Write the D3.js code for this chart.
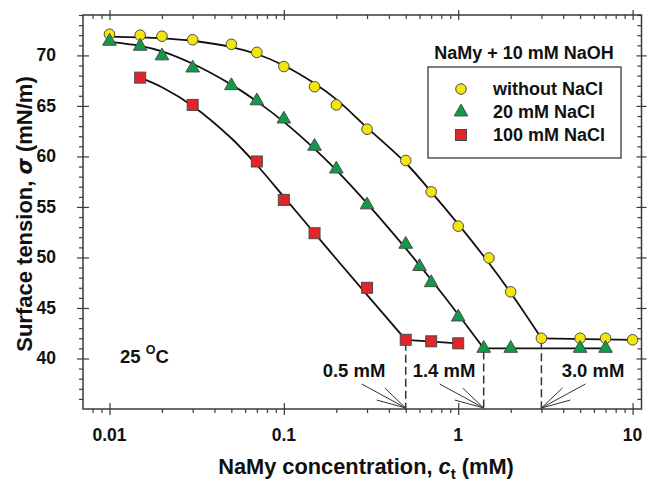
<!DOCTYPE html>
<html>
<head>
<meta charset="utf-8">
<script src="https://cdn.jsdelivr.net/npm/d3@7"></script>
<style>
  html, body { margin: 0; padding: 0; background: #fff; }
  svg { display: block; }
  text { font-family: "Liberation Sans", Arial, Helvetica, sans-serif; font-weight: bold; fill: #111; }
</style>
</head>
<body>
<svg id="chart" width="647" height="486"></svg>
<script>
// Measured surface tension (mN/m) vs NaMy concentration (mM)
const concNoSalt  = [0.01, 0.015, 0.02, 0.03, 0.05, 0.07, 0.1, 0.15, 0.2, 0.3, 0.5, 0.7, 1.0, 1.5, 2.0, 3.0, 5.0, 7.0, 10];
const sigmaNoSalt = [72.1, 72.0, 71.9, 71.55, 71.1, 70.3, 68.9, 66.9, 65.1, 62.7, 59.6, 56.5, 53.1, 49.95, 46.6, 42.0, 42.0, 42.0, 41.85];

const concNaCl20  = [0.01, 0.015, 0.02, 0.03, 0.05, 0.07, 0.1, 0.15, 0.2, 0.3, 0.5, 0.6, 0.7, 1.0, 1.4, 2.0, 5.0, 7.0];
const sigmaNaCl20 = [71.4, 70.9, 69.95, 68.75, 67.0, 65.5, 63.7, 61.0, 58.75, 55.2, 51.3, 49.1, 47.5, 44.1, 41.0, 41.0, 41.0, 41.0];

const concNaCl100  = [0.015, 0.03, 0.07, 0.1, 0.15, 0.3, 0.5, 0.7, 1.0];
const sigmaNaCl100 = [67.8, 65.1, 59.5, 55.7, 52.4, 47.0, 41.85, 41.7, 41.5];

// Fitted isotherm curves (knots) and post-CMC plateaus
const fitNoSaltX  = [0.01, 0.02, 0.03, 0.05, 0.07, 0.1, 0.15, 0.2, 0.3, 0.5, 0.7, 1.0, 1.5, 2.0, 3.0];
const fitNoSaltY  = [71.85, 71.69, 71.45, 70.83, 70.14, 69.0, 67.22, 65.65, 62.85, 59.35, 56.5, 53.3, 49.45, 46.5, 42.0];
const plateauNoSaltX = [3.0, 10];
const plateauNoSaltY = [42.0, 41.85];

const fitNaCl20X  = [0.01, 0.015, 0.02, 0.03, 0.05, 0.07, 0.1, 0.15, 0.2, 0.3, 0.5, 0.7, 1.0, 1.4];
const fitNaCl20Y  = [71.35, 70.95, 70.4, 69.17, 67.11, 65.45, 63.42, 60.75, 58.64, 55.36, 50.9, 47.79, 44.36, 41.0];
const plateauNaCl20X = [1.4, 7.0];
const plateauNaCl20Y = [41.0, 41.0];

const fitNaCl100X = [0.015, 0.02, 0.03, 0.05, 0.07, 0.1, 0.15, 0.2, 0.3, 0.5];
const fitNaCl100Y = [67.8, 66.85, 65.0, 61.8, 59.15, 56.0, 52.4, 49.85, 46.3, 41.85];
const plateauNaCl100X = [0.5, 1.0];
const plateauNaCl100Y = [41.85, 41.5];

// Critical micelle concentrations marked on the axis
const cmcValues = [0.5, 1.4, 3.0];
const cmcSigma  = [41.85, 41.0, 42.0];
const cmcLabels = ["0.5 mM", "1.4 mM", "3.0 mM"];

const xTickValues = [0.01, 0.1, 1, 10];
const xTickLabels = ["0.01", "0.1", "1", "10"];
const yTickValues = [40, 45, 50, 55, 60, 65, 70];

const legendTitle = "NaMy + 10 mM NaOH";
const seriesNames = ["without NaCl", "20 mM NaCl", "100 mM NaCl"];

const svg = d3.select("#chart");
const plotL = 83, plotR = 641.5, plotT = 15, plotB = 409;

const x = d3.scaleLog().domain([0.00705, 11.25]).range([plotL, plotR]);
const y = d3.scaleLinear().domain([35, 74]).range([plotB, plotT]);

const axisColor = "#3a3a3a";

// Minor tick values
const xMinor = [];
[0.001, 0.01, 0.1, 1].forEach(dec => {
  for (let k = 2; k <= 9; k++) {
    const v = dec * k;
    if (v >= x.domain()[0] && v <= x.domain()[1]) xMinor.push(v);
  }
});
const yMinor = d3.range(35, 75, 1).filter(v => v % 5 !== 0);

function styleAxis(g) {
  g.select(".domain").remove();
  g.selectAll(".tick line").attr("stroke", axisColor).attr("stroke-width", 1.2);
}

// Bottom: minor ticks outward, majors crossing the frame
svg.append("g").attr("transform", `translate(0,${plotB})`)
  .call(d3.axisBottom(x).tickValues(xMinor).tickSize(4).tickFormat(""))
  .call(styleAxis);
svg.append("g").attr("transform", `translate(0,${plotB - 6})`)
  .call(d3.axisBottom(x).tickValues(xTickValues).tickSize(12).tickFormat(""))
  .call(styleAxis);
// Top: ticks inward
svg.append("g").attr("transform", `translate(0,${plotT})`)
  .call(d3.axisBottom(x).tickValues(xMinor).tickSize(4).tickFormat(""))
  .call(styleAxis);
svg.append("g").attr("transform", `translate(0,${plotT - 5})`)
  .call(d3.axisBottom(x).tickValues(xTickValues).tickSize(10).tickFormat(""))
  .call(styleAxis);
// Left: minor outward, majors crossing
svg.append("g").attr("transform", `translate(${plotL},0)`)
  .call(d3.axisLeft(y).tickValues(yMinor).tickSize(4).tickFormat(""))
  .call(styleAxis);
svg.append("g").attr("transform", `translate(${plotL + 6},0)`)
  .call(d3.axisLeft(y).tickValues(yTickValues).tickSize(12).tickFormat(""))
  .call(styleAxis);
// Right: ticks inward
svg.append("g").attr("transform", `translate(${plotR},0)`)
  .call(d3.axisLeft(y).tickValues(yMinor).tickSize(4).tickFormat(""))
  .call(styleAxis);
svg.append("g").attr("transform", `translate(${plotR + 5},0)`)
  .call(d3.axisLeft(y).tickValues(yTickValues).tickSize(10).tickFormat(""))
  .call(styleAxis);

svg.append("rect")
  .attr("x", plotL).attr("y", plotT)
  .attr("width", plotR - plotL).attr("height", plotB - plotT)
  .attr("fill", "none").attr("stroke", axisColor).attr("stroke-width", 1.5);

// Tick labels
svg.append("g").selectAll("text").data(xTickValues).join("text")
  .attr("x", d => x(d)).attr("y", 441)
  .attr("text-anchor", "middle").attr("font-size", 17.5)
  .text((d, i) => xTickLabels[i]);
svg.append("g").selectAll("text").data(yTickValues).join("text")
  .attr("x", 56).attr("y", d => y(d) + 6)
  .attr("text-anchor", "end").attr("font-size", 17.5)
  .text(d => d);

// Axis titles
const xt = svg.append("text").attr("x", 366).attr("y", 474)
  .attr("text-anchor", "middle").attr("font-size", 21.8);
xt.append("tspan").text("NaMy concentration, ");
xt.append("tspan").attr("font-style", "italic").text("c");
xt.append("tspan").attr("font-size", 15).attr("dy", 5).text("t");
xt.append("tspan").attr("dy", -5).text(" (mM)");

const yt = svg.append("text").attr("transform", "translate(32,214) rotate(-90)")
  .attr("text-anchor", "middle").attr("font-size", 22);
yt.append("tspan").text("Surface tension, ");
yt.append("tspan").attr("font-style", "italic").attr("font-family", "'DejaVu Sans', sans-serif").attr("font-size", 21).text("σ");
yt.append("tspan").text(" (mN/m)");

// Fitted curves and plateaus
const line = d3.line().x(d => x(d[0])).y(d => y(d[1]));
const curve = d3.line().x(d => x(d[0])).y(d => y(d[1])).curve(d3.curveCatmullRom.alpha(0.5));
const zip = (a, b) => a.map((v, i) => [v, b[i]]);

const fits = [
  [fitNoSaltX, fitNoSaltY, plateauNoSaltX, plateauNoSaltY],
  [fitNaCl20X, fitNaCl20Y, plateauNaCl20X, plateauNaCl20Y],
  [fitNaCl100X, fitNaCl100Y, plateauNaCl100X, plateauNaCl100Y]
];
const gLines = svg.append("g").attr("fill", "none").attr("stroke", "#111").attr("stroke-width", 1.8);
fits.forEach(([fx, fy, px, py]) => {
  gLines.append("path").attr("d", curve(zip(fx, fy)));
  gLines.append("path").attr("d", line(zip(px, py)));
});

// CMC dashed drop lines, labels and fan arrows
const gCmc = svg.append("g");
cmcValues.forEach((c, i) => {
  gCmc.append("line")
    .attr("x1", x(c)).attr("x2", x(c))
    .attr("y1", y(cmcSigma[i]) + 3).attr("y2", plotB)
    .attr("stroke", "#333").attr("stroke-width", 1.5)
    .attr("stroke-dasharray", "8,4");
});
const fan = [[44, -24], [21, -20], [29, -8]];
const arrowDir = [-1, -1, 1];
const labelX = [354, 444, 593];
cmcValues.forEach((c, i) => {
  const tx = x(c), ty = plotB - 1;
  fan.forEach(([dx, dy]) => {
    gCmc.append("line")
      .attr("x1", tx + arrowDir[i] * dx).attr("y1", ty + dy)
      .attr("x2", tx).attr("y2", ty)
      .attr("stroke", "#333").attr("stroke-width", 1);
  });
  gCmc.append("text").attr("x", labelX[i]).attr("y", 377)
    .attr("text-anchor", "middle").attr("font-size", 18.5)
    .text(cmcLabels[i]);
});

// Temperature note
const tn = svg.append("text").attr("x", 120).attr("y", 363).attr("font-size", 18.5);
tn.append("tspan").text("25 ");
tn.append("tspan").attr("font-size", 12.5).attr("dy", -9).text("O");
tn.append("tspan").attr("dy", 9).text("C");

// Markers
const colors = ["#f4e60c", "#119a48", "#e3242b"];
const strokeCol = "#4a4a4a";
const tri = d3.symbol().type(d3.symbolTriangle).size(80);

svg.append("g").selectAll("circle").data(zip(concNoSalt, sigmaNoSalt)).join("circle")
  .attr("cx", d => x(d[0])).attr("cy", d => y(d[1])).attr("r", 5.3)
  .attr("fill", colors[0]).attr("stroke", strokeCol).attr("stroke-width", 1);

svg.append("g").selectAll("path").data(zip(concNaCl20, sigmaNaCl20)).join("path")
  .attr("transform", d => `translate(${x(d[0])},${y(d[1])})`)
  .attr("d", tri)
  .attr("fill", colors[1]).attr("stroke", strokeCol).attr("stroke-width", 1);

svg.append("g").selectAll("rect").data(zip(concNaCl100, sigmaNaCl100)).join("rect")
  .attr("x", d => x(d[0]) - 5.5).attr("y", d => y(d[1]) - 5.5)
  .attr("width", 11).attr("height", 11)
  .attr("fill", colors[2]).attr("stroke", strokeCol).attr("stroke-width", 1);

// Legend
svg.append("text").attr("x", 524).attr("y", 59)
  .attr("text-anchor", "middle").attr("font-size", 18).text(legendTitle);
svg.append("rect").attr("x", 428).attr("y", 67).attr("width", 193).attr("height", 91)
  .attr("fill", "#fff").attr("stroke", axisColor).attr("stroke-width", 1.3);
const rowY = [89, 112, 135];
const lg = svg.append("g");
lg.append("circle").attr("cx", 461).attr("cy", rowY[0]).attr("r", 5.3)
  .attr("fill", colors[0]).attr("stroke", strokeCol);
lg.append("path").attr("transform", `translate(461,${rowY[1]})`).attr("d", tri)
  .attr("fill", colors[1]).attr("stroke", strokeCol);
lg.append("rect").attr("x", 455.5).attr("y", rowY[2] - 5.5).attr("width", 11).attr("height", 11)
  .attr("fill", colors[2]).attr("stroke", strokeCol);
seriesNames.forEach((s, i) => {
  lg.append("text").attr("x", 493).attr("y", rowY[i] + 6).attr("font-size", 18).text(s);
});
</script>
</body>
</html>
